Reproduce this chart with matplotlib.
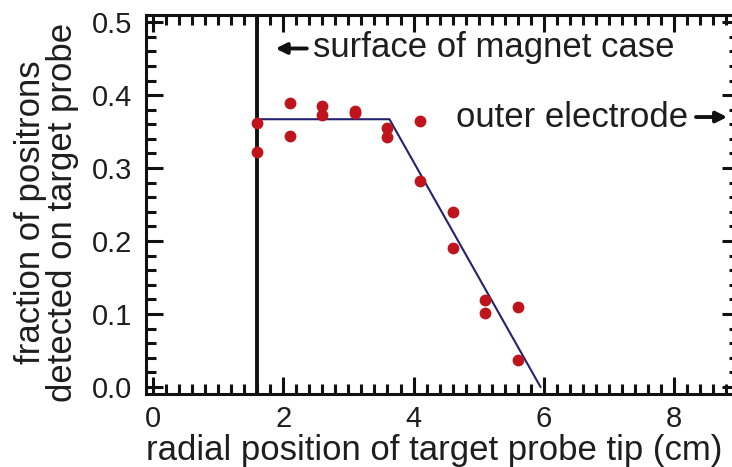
import numpy as np
import matplotlib
matplotlib.use("Agg")
import matplotlib.pyplot as plt
from matplotlib.ticker import MultipleLocator, FormatStrFormatter

plt.rcParams['font.family'] = ['Liberation Sans', 'DejaVu Sans']

# measured fractions vs. radial probe position
radius_cm = [1.6, 1.6, 2.1, 2.1, 2.6, 2.6, 3.1, 3.1, 3.6, 3.6,
             4.1, 4.1, 4.6, 4.6, 5.1, 5.1, 5.6, 5.6]
fraction = [0.362, 0.322, 0.389, 0.344, 0.385, 0.373, 0.378, 0.376, 0.355, 0.342,
            0.364, 0.282, 0.240, 0.190, 0.119, 0.101, 0.110, 0.037]

# piecewise fit: flat plateau then linear fall-off
fit_x = [1.6, 3.63, 5.95]
fit_y = [0.367, 0.367, 0.0]

magnet_surface = 1.6

text_col = '#1e1e1e'
tick_fs = 21
label_fs = 25

fig = plt.figure(figsize=(7.32, 4.67), dpi=100)
ax = fig.add_axes([0.1995, 0.156, 0.81, 0.812])

ax.axvline(magnet_surface, color='#111111', lw=2.8, zorder=2)
ax.plot(fit_x, fit_y, color='#22226e', lw=1.5, zorder=3)
ax.plot(radius_cm, fraction, 'o', color='#c0141c', ms=8.5, mec='none', zorder=4)

ax.set_xlim(-0.11, 9.0)
ax.set_ylim(-0.01, 0.51)

ax.xaxis.set_major_locator(MultipleLocator(2))
ax.xaxis.set_minor_locator(MultipleLocator(0.2))
ax.yaxis.set_major_locator(MultipleLocator(0.1))
ax.yaxis.set_minor_locator(MultipleLocator(0.02))
ax.yaxis.set_major_formatter(FormatStrFormatter('%.1f'))

ax.tick_params(which='both', direction='in', top=True, right=True,
               colors='#111111', labelcolor=text_col, labelsize=tick_fs)
ax.tick_params(which='major', length=12, width=2.2)
ax.tick_params(which='minor', length=7, width=2.2)
ax.tick_params(axis='y', pad=10)
ax.tick_params(axis='x', pad=8)
for s in ax.spines.values():
    s.set_linewidth(2.2)
    s.set_color('#111111')

ax.set_xlabel('radial position of target probe tip (cm)', fontsize=label_fs,
              color=text_col)
ax.xaxis.set_label_coords(0.486, -0.104)
ax.set_ylabel('fraction of positrons\ndetected on target probe', fontsize=label_fs,
              color=text_col, linespacing=0.95)
ax.yaxis.set_label_coords(-0.113, 0.48)

# annotations with bold arrows
arrow_kw = dict(arrowstyle='-|>', lw=2.8, color='#111111', mutation_scale=16,
                shrinkA=0, shrinkB=0)
ax.annotate('', xy=(1.88, 0.464), xytext=(2.36, 0.464), arrowprops=arrow_kw)
ax.text(2.46, 0.452, 'surface of magnet case', fontsize=label_fs,
        color=text_col, va='baseline', ha='left')

ax.annotate('', xy=(8.82, 0.370), xytext=(8.34, 0.370), arrowprops=arrow_kw,
            annotation_clip=False)
ax.text(8.22, 0.356, 'outer electrode', fontsize=label_fs,
        color=text_col, va='baseline', ha='right')

fig.savefig('out.png', dpi=100)
